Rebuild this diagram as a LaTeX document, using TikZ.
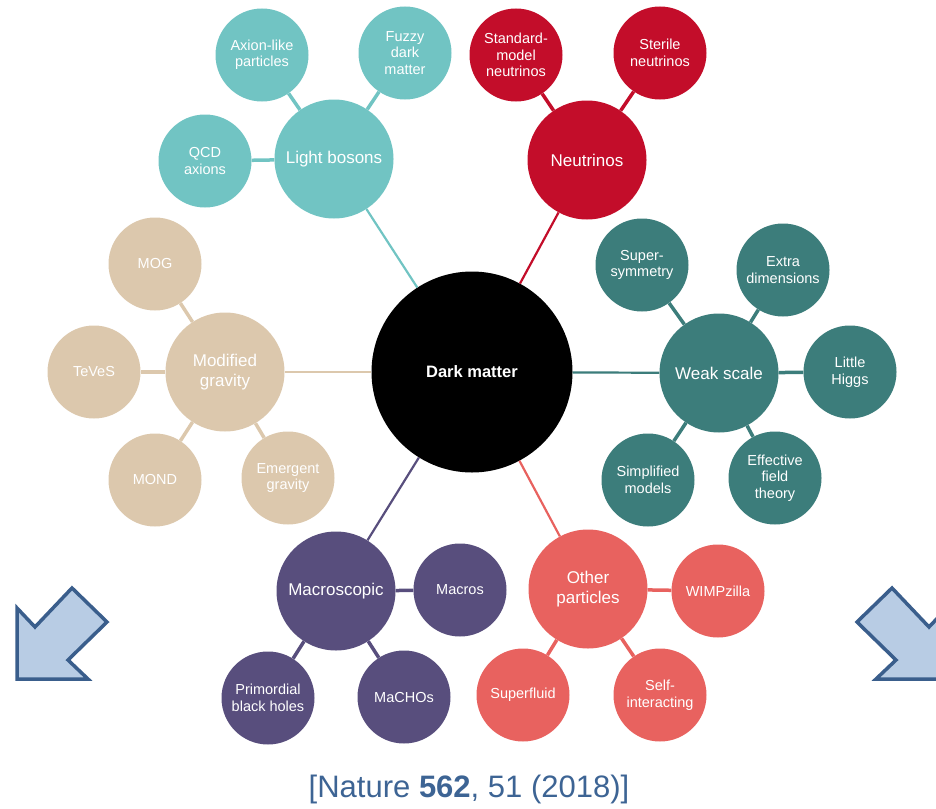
\documentclass[tikz,border=0pt]{standalone}
\usepackage{fontspec}
\setmainfont{Liberation Sans}
\definecolor{lbcol}{HTML}{71C4C3}
\definecolor{nucol}{HTML}{C30D2A}
\definecolor{wscol}{HTML}{3C7D7B}
\definecolor{mgcol}{HTML}{DCC8AD}
\definecolor{maccol}{HTML}{584E7D}
\definecolor{opcol}{HTML}{E8625F}
\definecolor{arrfill}{HTML}{B8CCE4}
\definecolor{arrline}{HTML}{3A5E8C}
\definecolor{citecol}{HTML}{3D6494}
\tikzset{
  mainc/.style={circle, minimum size=119pt, inner sep=0pt, text=white, fill=#1,
    font=\fontsize{17}{20}\selectfont, align=center},
  subc/.style={circle, minimum size=93pt, inner sep=0pt, text=white, fill=#1,
    font=\fontsize{14.5}{16.5}\selectfont, align=center},
  subconn/.style={draw=#1, line width=3.5pt},
  mainconn/.style={draw=#1, line width=2.2pt},
  blockarrow/.style={fill=arrfill, draw=arrline, line width=3.5pt, line join=miter}
}
\begin{document}
\begin{tikzpicture}[x=1pt, y=-1pt]
\useasboundingbox (0,0) rectangle (936,808);

% centre
\node[circle, minimum size=201pt, inner sep=0pt, fill=black, text=white,
  font=\fontsize{16.5}{20}\selectfont\bfseries] (dm) at (472,372) {Dark matter};

% light bosons
\node[mainc=lbcol] (lb) at (334,159) {Light bosons};
\node[subc=lbcol] (alp) at (262,55) {Axion-like\\particles};
\node[subc=lbcol] (fuzzy) at (405,53) {Fuzzy\\dark\\matter};
\node[subc=lbcol] (qcd) at (205,161) {QCD\\axions};

% neutrinos
\node[mainc=nucol] (nu) at (587,160) {Neutrinos};
\node[subc=nucol] (smn) at (516,55) {Standard-\\model\\neutrinos};
\node[subc=nucol] (ster) at (660,53) {Sterile\\neutrinos};

% weak scale
\node[mainc=wscol] (ws) at (719,373) {Weak scale};
\node[subc=wscol] (susy) at (642,265) {Super-\\symmetry};
\node[subc=wscol] (extra) at (783,270) {Extra\\dimensions};
\node[subc=wscol] (lh) at (850,372) {Little\\Higgs};
\node[subc=wscol] (simp) at (648,480) {Simplified\\models};
\node[subc=wscol] (eft) at (775,478) {Effective\\field\\theory};

% modified gravity
\node[mainc=mgcol] (mg) at (225,372) {Modified\\gravity};
\node[subc=mgcol] (mog) at (155,264) {MOG};
\node[subc=mgcol] (teves) at (94,372) {TeVeS};
\node[subc=mgcol] (mond) at (155,480) {MOND};
\node[subc=mgcol] (emerg) at (288,478) {Emergent\\gravity};

% macroscopic
\node[mainc=maccol] (mac) at (336,591) {Macroscopic};
\node[subc=maccol] (macros) at (460,590) {Macros};
\node[subc=maccol] (pbh) at (268,698) {Primordial\\black holes};
\node[subc=maccol] (machos) at (404,697) {MaCHOs};

% other particles
\node[mainc=opcol] (op) at (588,589) {Other\\particles};
\node[subc=opcol] (wimp) at (718,591) {WIMPzilla};
\node[subc=opcol] (sfl) at (523,695) {Superfluid};
\node[subc=opcol] (selfi) at (660,695) {Self-\\interacting};

% connectors centre
\path[mainconn=lbcol] (dm) -- (lb);
\path[mainconn=nucol] (dm) -- (nu);
\path[mainconn=wscol] (dm) -- (ws);
\path[mainconn=mgcol] (dm) -- (mg);
\path[mainconn=maccol] (dm) -- (mac);
\path[mainconn=opcol] (dm) -- (op);

% connectors sub
\foreach \s in {alp,fuzzy,qcd} \path[subconn=lbcol] (lb) -- (\s);
\foreach \s in {smn,ster} \path[subconn=nucol] (nu) -- (\s);
\foreach \s in {susy,extra,lh,simp,eft} \path[subconn=wscol] (ws) -- (\s);
\foreach \s in {mog,teves,mond,emerg} \path[subconn=mgcol] (mg) -- (\s);
\foreach \s in {macros,pbh,machos} \path[subconn=maccol] (mac) -- (\s);
\foreach \s in {wimp,sfl,selfi} \path[subconn=opcol] (op) -- (\s);

% block arrows
\path[blockarrow] (17,608) -- (35,627) -- (72,588) -- (107,622) -- (68,660) -- (88,679) -- (17,679) -- cycle;
\path[blockarrow] (947,608) -- (929,627) -- (892,588) -- (857,622) -- (896,660) -- (876,679) -- (947,679) -- cycle;

% citation
\node[anchor=base, text=citecol, font=\fontsize{31}{36}\selectfont, inner sep=0pt] (cite) at (469,797)
  {[Nature \textbf{562}, 51 (2018)]};
\end{tikzpicture}
\end{document}
